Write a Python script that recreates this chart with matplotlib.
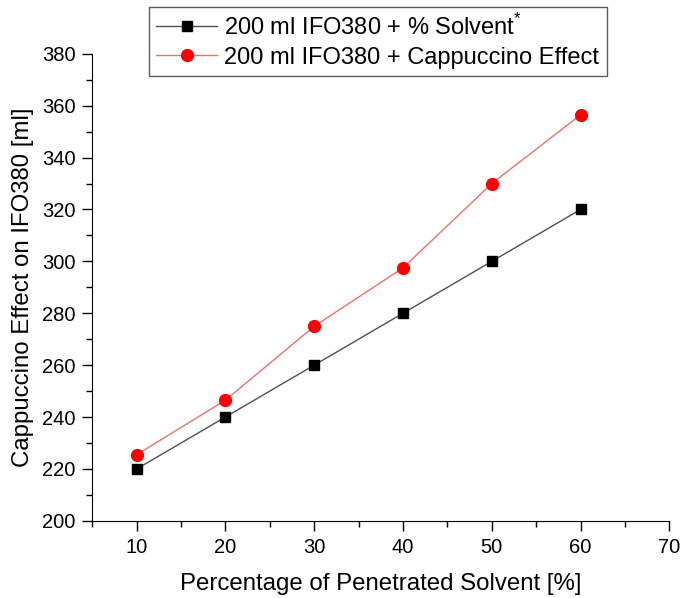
import matplotlib
matplotlib.use('Agg')
import matplotlib.pyplot as plt
from matplotlib.ticker import MultipleLocator

# data
solvent_pct = [10, 20, 30, 40, 50, 60]
solvent_ml = [220, 240, 260, 280, 300, 320]
cappuccino_ml = [225.5, 246.5, 275, 297.5, 330, 356.5]

label_solvent = '200 ml IFO380 + % Solvent$^{*}$'
label_capp = '200 ml IFO380 + Cappuccino Effect'

plt.rcParams['font.family'] = ['Liberation Sans', 'DejaVu Sans']
plt.rcParams['mathtext.fontset'] = 'custom'
plt.rcParams['mathtext.rm'] = 'Liberation Sans'

fig = plt.figure(figsize=(6.83, 5.98), dpi=100)
ax = fig.add_axes([0.135, 0.129, 0.845, 0.781])

ax.plot(solvent_pct, solvent_ml, color='#505050', lw=1, marker='s',
        markersize=7.5, markerfacecolor='black', markeredgecolor='black',
        label=label_solvent)
ax.plot(solvent_pct, cappuccino_ml, color='#f07070', lw=1, marker='o',
        markersize=8.5, markerfacecolor='#ff0000', markeredgecolor='#ff0000',
        label=label_capp)

ax.set_xlim(5, 70)
ax.set_ylim(200, 380)
ax.xaxis.set_major_locator(MultipleLocator(10))
ax.xaxis.set_minor_locator(MultipleLocator(5))
ax.yaxis.set_major_locator(MultipleLocator(20))
ax.yaxis.set_minor_locator(MultipleLocator(10))
ax.set_xticks([10, 20, 30, 40, 50, 60, 70])

ax.spines['top'].set_visible(False)
ax.spines['right'].set_visible(False)
ax.tick_params(which='major', direction='out', length=7, width=1,
               labelsize=14.5, pad=5)
ax.tick_params(which='minor', direction='out', length=4, width=1)

ax.set_xlabel('Percentage of Penetrated Solvent [%]', fontsize=17.3,
              labelpad=12)
ax.set_ylabel('Cappuccino Effect on IFO380 [ml]', fontsize=17.3, labelpad=6)

leg = fig.legend(loc='upper center', bbox_to_anchor=(0.553, 0.997),
                 fontsize=17, frameon=True, fancybox=False, handlelength=2.6,
                 borderpad=0.3, labelspacing=0.3, handletextpad=0.3,
                 borderaxespad=0.2)
leg.get_frame().set_edgecolor('#333333')
leg.get_frame().set_linewidth(1)

fig.savefig('out.png', dpi=100)
